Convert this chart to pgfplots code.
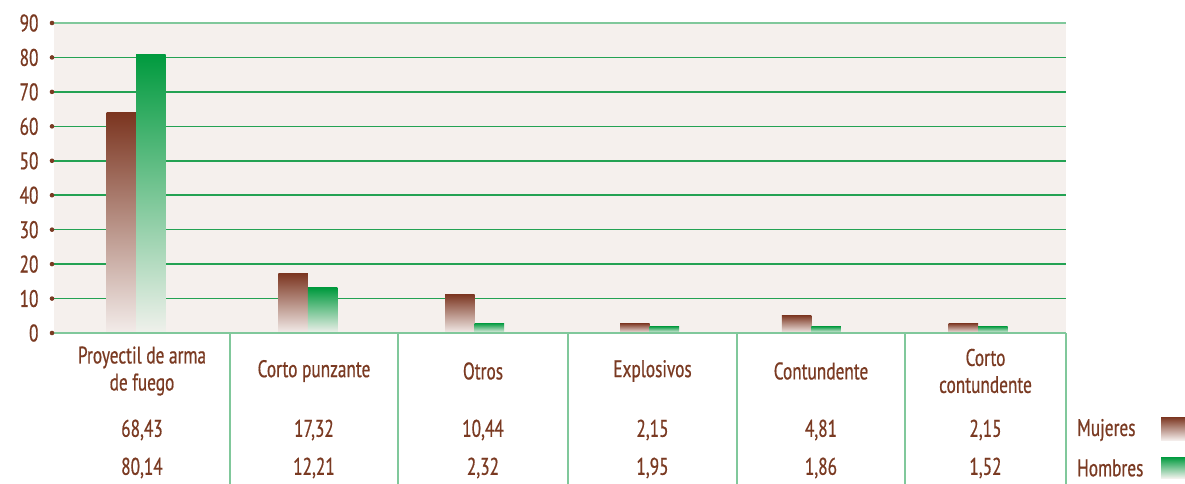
\documentclass[border=0pt]{standalone}
\usepackage{fontspec}
\setmainfont{PT Sans}[FakeStretch=0.72, FakeBold=0.6]
\usepackage{pgfplots}
\pgfplotsset{compat=1.18}
\definecolor{txt}{HTML}{7A3A22}
\definecolor{muj}{HTML}{7B3520}
\definecolor{mujl}{HTML}{F3ECEA}
\definecolor{hom}{HTML}{009A3E}
\definecolor{homl}{HTML}{F0F1EC}
\definecolor{grd}{HTML}{23A253}
\definecolor{grdl}{HTML}{80C89B}
\definecolor{bg}{HTML}{F5F0ED}
\newcommand{\lbl}{\fontsize{24}{27}\selectfont}

\begin{document}
\begin{tikzpicture}[font=\lbl, text=txt]
\path[use as bounding box] (-54pt,-151pt) rectangle (1131pt,333pt);
\begin{axis}[
  at={(0,0)}, anchor=south west,
  scale only axis, width=1012pt, height=310pt,
  xmin=-0.487, xmax=5.522, ymin=0, ymax=90,
  ytick={0,10,...,90}, xtick=\empty,
  axis line style={draw=none},
  axis background/.style={fill=bg},
  ymajorgrids, grid style={grd, line width=1.5pt},
  major tick length=0pt,
  yticklabel style={font=\lbl, text=txt, anchor=east, xshift=-12pt},
  /pgf/number format/assume math mode=true,
  ybar, bar width=29.5pt,
  clip=false,
]
% Mujeres
\addplot[bar shift=-14.75pt, draw=none, top color=muj, bottom color=mujl] coordinates {(0,63.9)};
\addplot[bar shift=-14.75pt, draw=none, top color=muj, bottom color=mujl] coordinates {(1.02,17.4)};
\addplot[bar shift=-14.75pt, draw=none, top color=muj, bottom color=mujl] coordinates {(2.01,11.3)};
\addplot[bar shift=-14.75pt, draw=none, top color=muj, bottom color=mujl] coordinates {(3.05,2.9)};
\addplot[bar shift=-14.75pt, draw=none, top color=muj, bottom color=mujl] coordinates {(4.01,5.2)};
\addplot[bar shift=-14.75pt, draw=none, top color=muj, bottom color=mujl] coordinates {(5,2.9)};
% Hombres
\addplot[bar shift=14.75pt, draw=none, top color=hom, bottom color=homl] coordinates {(0,81.0)};
\addplot[bar shift=14.75pt, draw=none, top color=hom, bottom color=homl] coordinates {(1.02,13.1)};
\addplot[bar shift=14.75pt, draw=none, top color=hom, bottom color=homl] coordinates {(2.01,2.9)};
\addplot[bar shift=14.75pt, draw=none, top color=hom, bottom color=homl] coordinates {(3.05,2.0)};
\addplot[bar shift=14.75pt, draw=none, top color=hom, bottom color=homl] coordinates {(4.01,2.0)};
\addplot[bar shift=14.75pt, draw=none, top color=hom, bottom color=homl] coordinates {(5,2.0)};
\end{axis}

% top and bottom rules
\draw[grdl, line width=2.4pt] (0,310pt) -- (1012pt,310pt);
\draw[grdl, line width=2.4pt] (0,0) -- (1012pt,0);
% tick dots
\foreach \k in {0,...,9} \fill[txt] (-2pt,{\k*310pt/9}) circle (2.3pt);

% table separators
\foreach \x in {176,344,514,683,851,1012}
  \draw[grdl, line width=2pt] (\x pt,0) -- (\x pt,-151pt);

% category names
\node[align=center] at (88pt,-38pt) {Proyectil de arma\\de fuego};
\node[align=center] at (260pt,-38pt) {Corto punzante};
\node[align=center] at (429pt,-38pt) {Otros};
\node[align=center] at (598.5pt,-38pt) {Explosivos};
\node[align=center] at (767pt,-38pt) {Contundente};
\node[align=center] at (931.5pt,-38pt) {Corto\\contundente};

% values
\foreach \x/\m/\h in {88/{68,43}/{80,14}, 260/{17,32}/{12,21}, 429/{10,44}/{2,32},
                      598.5/{2,15}/{1,95}, 767/{4,81}/{1,86}, 931.5/{2,15}/{1,52}} {
  \node at (\x pt,-97pt) {\m};
  \node at (\x pt,-135pt) {\h};
}

% legend
\node[anchor=west, inner sep=0pt] at (1023pt,-97pt) {Mujeres};
\node[anchor=west, inner sep=0pt] at (1023pt,-135pt) {Hombres};
\shade[top color=muj, bottom color=mujl] (1107pt,-84pt) rectangle (1131pt,-107pt);
\shade[top color=hom, bottom color=homl] (1107pt,-124pt) rectangle (1131pt,-145pt);
\end{tikzpicture}
\end{document}
